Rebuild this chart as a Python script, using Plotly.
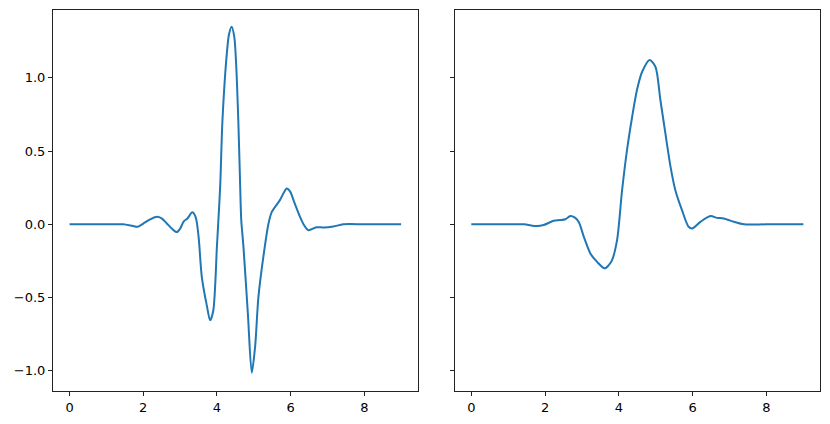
import plotly.graph_objects as go
from plotly.subplots import make_subplots

# left panel trace
x_left = [0, 0.5, 1.0, 1.45, 1.7, 1.85, 2.0, 2.2, 2.37, 2.5, 2.64, 2.78, 2.91, 3.0,
          3.1, 3.2, 3.33, 3.42, 3.5, 3.59, 3.73, 3.815, 3.9, 4.0, 4.04, 4.09, 4.15,
          4.27, 4.33, 4.4, 4.47, 4.52, 4.58, 4.63, 4.66, 4.72, 4.84, 4.946, 5.036,
          5.126, 5.26, 5.4, 5.49, 5.71, 5.895, 5.985, 6.1, 6.256, 6.35, 6.48, 6.7,
          6.9, 7.16, 7.43, 8.0, 9.0]
y_left = [0, 0, 0, 0, -0.01, -0.017, 0.005, 0.035, 0.051, 0.04, 0.006, -0.03, -0.053,
          -0.03, 0.02, 0.04, 0.082, 0.05, -0.08, -0.36, -0.56, -0.655, -0.59, -0.15,
          0.03, 0.27, 0.71, 1.17, 1.3, 1.348, 1.28, 1.1, 0.71, 0.27, 0.03, -0.154,
          -0.61, -1.013, -0.836, -0.495, -0.222, 0.006, 0.085, 0.165, 0.245, 0.225,
          0.15, 0.051, 0.0, -0.04, -0.02, -0.022, -0.015, 0, 0, 0]

# right panel trace
x_right = [0, 0.5, 1.0, 1.42, 1.78, 1.96, 2.23, 2.41, 2.55, 2.685, 2.8, 2.91, 3.05,
           3.23, 3.41, 3.61, 3.72, 3.815, 3.95, 4.087, 4.22, 4.36, 4.49, 4.63, 4.835,
           4.99, 5.125, 5.26, 5.4, 5.53, 5.71, 5.89, 5.985, 6.21, 6.48, 6.66, 6.84,
           7.12, 7.39, 8.0, 9.0]
y_right = [0, 0, 0, 0, -0.012, -0.005, 0.024, 0.029, 0.035, 0.056, 0.047, 0.017,
           -0.085, -0.2, -0.256, -0.3, -0.28, -0.244, -0.108, 0.233, 0.506, 0.734,
           0.916, 1.041, 1.121, 1.075, 0.848, 0.62, 0.392, 0.233, 0.097, -0.017,
           -0.028, 0.017, 0.056, 0.044, 0.04, 0.017, 0, 0, 0]

x_ticks = [0, 2, 4, 6, 8]
y_ticks = [-1.0, -0.5, 0.0, 0.5, 1.0]
y_tick_text = ["\u22121.0", "\u22120.5", "0.0", "0.5", "1.0"]

fig = make_subplots(rows=1, cols=2, shared_yaxes=True)

fig.add_trace(go.Scatter(x=x_left, y=y_left, mode="lines",
                         line=dict(color="#1f77b4", width=2, shape="spline", smoothing=0.8)),
              row=1, col=1)
fig.add_trace(go.Scatter(x=x_right, y=y_right, mode="lines",
                         line=dict(color="#1f77b4", width=2, shape="spline", smoothing=0.8)),
              row=1, col=2)

axis_style = dict(showline=True, linecolor="#222", linewidth=1, mirror=True,
                  ticks="outside", ticklen=4, tickcolor="#222", tickwidth=1,
                  showgrid=False, zeroline=False, automargin=False,
                  tickfont=dict(family="DejaVu Sans", size=13, color="black"))

fig.update_xaxes(range=[-0.45, 9.45], tickvals=x_ticks, **axis_style)
fig.update_yaxes(range=[-1.137, 1.462], tickvals=y_ticks, ticktext=y_tick_text, **axis_style)
fig.update_yaxes(showticklabels=False, row=1, col=2)
# page body adds 8px on each side, so the figure is 16px smaller than the window
fig.update_xaxes(domain=[0, 0.4755], row=1, col=1)
fig.update_xaxes(domain=[0.5237, 1], row=1, col=2)

fig.update_layout(
    width=814, height=408,
    margin=dict(l=45, r=2, t=2, b=25),
    plot_bgcolor="white", paper_bgcolor="white",
    showlegend=False,
)

fig.write_html("out.html")
